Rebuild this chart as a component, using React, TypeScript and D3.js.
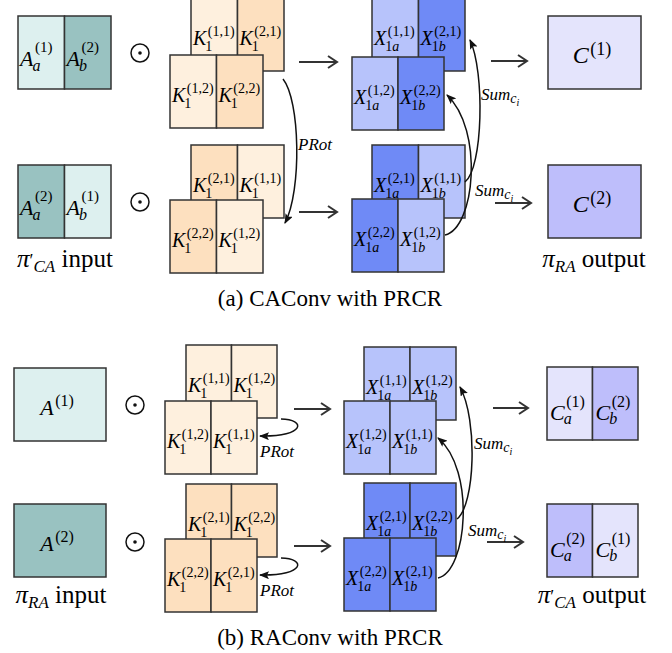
import * as d3 from 'd3';
import { useEffect, useRef } from 'react';

// channel labels
// (a) CAConv
const inputsA = [['1', '2'], ['2', '1']]; // A_a^(i) | A_b^(j) per row
const kernelsA = [
  [['1,1', '2,1'], ['1,2', '2,2']], // row 1: back pair, front pair
  [['2,1', '1,1'], ['2,2', '1,2']],
];
const partialsA = [
  [['1,1', '2,1'], ['1,2', '2,2']],
  [['2,1', '1,1'], ['2,2', '1,2']],
];
const outputsA = ['1', '2'];

// (b) RAConv
const inputsB = ['1', '2'];
const kernelsB = [
  [['1,1', '1,2'], ['1,2', '1,1']],
  [['2,1', '2,2'], ['2,2', '2,1']],
];
const partialsB = [
  [['1,1', '1,2'], ['1,2', '1,1']],
  [['2,1', '2,2'], ['2,2', '2,1']],
];
const outputsB = [['1', '2'], ['2', '1']];

// io labels: [prime, subscript, word]
const ioA = [['\u2032', 'CA', 'input'], ['', 'RA', 'output']];
const ioB = [['', 'RA', 'input'], ['\u2032', 'CA', 'output']];
const halves = ['a', 'b'];
const captions = ['(a) CAConv with PRCR', '(b) RAConv with PRCR'];

const FILL: Record<string, string[]> = {
  A: ['#ddf0ef', '#99c2c1'],
  K: ['#fef0de', '#fde0bf'],
  X: ['#b7c3fb', '#6f8af6'],
  C: ['#e4e4fc', '#bebefb'],
};
const shade = (lab: string) => +lab[0] - 1;
const INK = '#333';

type Run = { t: string; it?: boolean; size?: number; dy?: number };
type Sym = {
  base: string; size: number;
  sup?: string; supSize?: number; supDy?: number;
  sub?: Run[]; subSize?: number; subDy?: number;
};

function sym(parent: any, x: number, y: number, s: Sym, anchor: 'start' | 'middle') {
  const g = parent.append('g');
  const b = g.append('text').attr('y', y).attr('font-size', s.size).attr('font-style', 'italic').text(s.base);
  const bw = b.node().getComputedTextLength();
  let w = bw;
  if (s.sup) {
    const t = g.append('text').attr('x', bw + 1.5).attr('y', y + (s.supDy ?? 0)).attr('font-size', s.supSize).text(s.sup);
    w = Math.max(w, bw + 1.5 + t.node().getComputedTextLength());
  }
  if (s.sub) {
    const t = g.append('text').attr('x', bw - 1).attr('y', y + (s.subDy ?? 0)).attr('font-size', s.subSize);
    s.sub.forEach(r =>
      t.append('tspan')
        .attr('font-style', r.it ? 'italic' : 'normal')
        .attr('font-size', r.size ?? null)
        .attr('dy', r.dy ?? null)
        .text(r.t));
    w = Math.max(w, bw - 1 + t.node().getComputedTextLength());
  }
  g.attr('transform', `translate(${anchor === 'middle' ? x - w / 2 : x},0)`);
}

function rect(g: any, x: number, y: number, w: number, h: number, fill: string) {
  g.append('rect')
    .attr('x', x).attr('y', y).attr('width', w).attr('height', h)
    .attr('fill', fill).attr('stroke', INK).attr('stroke-width', 1.5);
}

// pair of K or X cells
function kx(g: any, x: number, y: number, w: number, h: number, kind: string, labs: string[]) {
  const cw = w / 2;
  labs.forEach((lab, i) => {
    rect(g, x + i * cw, y, cw, h, FILL[kind][shade(lab)]);
    sym(g, x + i * cw + 2, y + h / 2 + 10.5, {
      base: kind, size: 20,
      sup: `(${lab})`, supSize: 14, supDy: -9,
      sub: kind === 'K' ? [{ t: '1' }] : [{ t: '1' }, { t: halves[i], it: true }],
      subSize: 14, subDy: 6,
    }, 'start');
  });
}

function odot(g: any, cx: number, cy: number) {
  g.append('circle').attr('cx', cx).attr('cy', cy).attr('r', 9)
    .attr('fill', 'none').attr('stroke', '#111').attr('stroke-width', 1.5);
  g.append('circle').attr('cx', cx).attr('cy', cy).attr('r', 1.8).attr('fill', '#111');
}

function arrow(g: any, x1: number, x2: number, y: number) {
  g.append('line').attr('x1', x1).attr('x2', x2).attr('y1', y).attr('y2', y)
    .attr('stroke', INK).attr('stroke-width', 2);
  g.append('polyline').attr('points', `${x2 - 9},${y - 6} ${x2},${y} ${x2 - 9},${y + 6}`)
    .attr('fill', 'none').attr('stroke', INK).attr('stroke-width', 2);
}

function curve(g: any, pts: number[][]) {
  const p = d3.path();
  p.moveTo(pts[0][0], pts[0][1]);
  p.bezierCurveTo(pts[1][0], pts[1][1], pts[2][0], pts[2][1], pts[3][0], pts[3][1]);
  g.append('path').attr('d', p.toString()).attr('fill', 'none')
    .attr('stroke', '#111').attr('stroke-width', 1.5).attr('marker-end', 'url(#head)');
}

function sumLabel(g: any, x: number, y: number) {
  const t = g.append('text').attr('x', x).attr('y', y).attr('font-size', 17).attr('font-style', 'italic');
  t.append('tspan').text('Sum');
  t.append('tspan').attr('font-size', 14).attr('dy', 3).text('c');
  t.append('tspan').attr('font-size', 10).attr('dy', 3).text('i');
}

function prot(g: any, x: number, y: number) {
  g.append('text').attr('x', x).attr('y', y).attr('font-size', 17).attr('font-style', 'italic').text('PRot');
}

function ioLabel(g: any, cx: number, y: number, io: string[]) {
  const t = g.append('text').attr('x', cx).attr('y', y).attr('font-size', 25).attr('text-anchor', 'middle');
  t.append('tspan').attr('font-style', 'italic').text('\u03c0');
  if (io[0]) t.append('tspan').attr('font-size', 18).text(io[0]);
  t.append('tspan').attr('font-style', 'italic').attr('font-size', 17).attr('dy', 5).text(io[1]);
  t.append('tspan').attr('dy', -5).text(' ' + io[2]);
}

export default function App() {
  const ref = useRef<SVGSVGElement>(null);

  useEffect(() => {
    const svg = d3.select(ref.current);
    svg.selectAll('*').remove();

    svg.append('defs').append('marker')
      .attr('id', 'head').attr('viewBox', '0 0 10 8')
      .attr('markerUnits', 'userSpaceOnUse')
      .attr('markerWidth', 10).attr('markerHeight', 8)
      .attr('refX', 9).attr('refY', 4).attr('orient', 'auto')
      .append('path').attr('d', 'M0,0 L10,4 L0,8 L2,4 Z').attr('fill', '#111');

    const g = svg.append('g');
    const H = 73;

    // ---------- (a) CAConv ----------
    const aRows = [
      { inY: 16, kb: -2, kf: 55, xb: -2, xf: 57, dot: 53, a1: 62, a2: [491, 527, 61], outY: 16 },
      { inY: 165, kb: 145, kf: 200, xb: 145, xf: 199, dot: 202, a1: 212, a2: [495, 531, 203], outY: 165 },
    ];
    aRows.forEach((r, ri) => {
      inputsA[ri].forEach((lab, i) => {
        rect(g, 18 + i * 46.5, r.inY, 46.5, H, FILL.A[shade(lab)]);
        sym(g, 18 + i * 46.5 + 2, r.inY + H / 2 + 13.5, {
          base: 'A', size: 22, sup: `(${lab})`, supSize: 15, supDy: -14,
          sub: [{ t: halves[i], it: true }], subSize: 16, subDy: 5,
        }, 'start');
      });
      odot(g, 140, r.dot);
      kx(g, 191, r.kb, 93, H, 'K', kernelsA[ri][0]);
      kx(g, 170, r.kf, 93, H, 'K', kernelsA[ri][1]);
      arrow(g, 299, 337, r.a1);
      kx(g, 372, r.xb, 93, H, 'X', partialsA[ri][0]);
      kx(g, 352, r.xf, 92, H, 'X', partialsA[ri][1]);
      arrow(g, r.a2[0], r.a2[1], r.a2[2]);
      rect(g, 548, r.outY, 93, H, FILL.C[ri]);
      sym(g, 592, r.outY + H / 2 + 10.5, { base: 'C', size: 24, sup: `(${outputsA[ri]})`, supSize: 18, supDy: -8 }, 'middle');
    });
    curve(g, [[283, 79], [300, 100], [302, 190], [285, 223]]);
    prot(g, 298, 150);
    curve(g, [[465, 182], [483, 168], [485, 72], [470, 40]]);
    curve(g, [[445, 235], [475, 228], [484, 130], [447, 95]]);
    sumLabel(g, 481, 100);
    sumLabel(g, 475, 196);
    ioLabel(g, 65, 267, ioA[0]);
    ioLabel(g, 594, 267, ioA[1]);
    g.append('text').attr('x', 330).attr('y', 306).attr('font-size', 23)
      .attr('text-anchor', 'middle').text(captions[0]);

    // ---------- (b) RAConv ----------
    const bRows = [
      { inY: 368, kb: 345, kf: 401, xb: 347, xf: 401, dot: 405, a1: 409, a2: [493, 528, 408], outY: 367 },
      { inY: 504, kb: 484, kf: 539, xb: 483, xf: 538, dot: 542, a1: 546, a2: [487, 523, 542], outY: 504 },
    ];
    bRows.forEach((r, ri) => {
      rect(g, 14, r.inY, 92, H, FILL.A[ri]);
      sym(g, 57, r.inY + H / 2 + 10, { base: 'A', size: 22, sup: `(${inputsB[ri]})`, supSize: 16, supDy: -9 }, 'middle');
      odot(g, 135, r.dot);
      kx(g, 186, r.kb, 91, H, 'K', kernelsB[ri][0]);
      kx(g, 165, r.kf, 92, H, 'K', kernelsB[ri][1]);
      arrow(g, 294, 330, r.a1);
      kx(g, 364, r.xb, 92, H, 'X', partialsB[ri][0]);
      kx(g, 344, r.xf, 92, H, 'X', partialsB[ri][1]);
      arrow(g, r.a2[0], r.a2[1], r.a2[2]);
      outputsB[ri].forEach((lab, i) => {
        rect(g, 547 + i * 45.5, r.outY, 45.5, H, FILL.C[shade(lab)]);
        sym(g, 547 + i * 45.5 + 3, r.outY + H / 2 + 16, {
          base: 'C', size: 22, sup: `(${lab})`, supSize: 16, supDy: -13,
          sub: [{ t: halves[i], it: true }], subSize: 16, subDy: 4,
        }, 'start');
      });
      // PRot loop
      curve(g, [[281, r.kb + 74], [306, r.kb + 74], [306, r.kb + 92], [260, r.kb + 91]]);
      prot(g, 260, r.kb + 112);
    });
    curve(g, [[457, 519], [475, 505], [478, 420], [460, 387]]);
    curve(g, [[438, 578], [467, 572], [476, 470], [438, 438]]);
    sumLabel(g, 474, 449);
    sumLabel(g, 468, 536);
    ioLabel(g, 61, 603, ioB[0]);
    ioLabel(g, 592, 603, ioB[1]);
    g.append('text').attr('x', 330).attr('y', 645).attr('font-size', 23)
      .attr('text-anchor', 'middle').text(captions[1]);
  }, []);

  return (
    <svg
      ref={ref}
      width={672}
      height={653}
      viewBox="0 0 672 653"
      fontFamily="'Liberation Serif', serif"
      style={{ position: 'absolute', left: 0, top: 0, background: '#fff' }}
    />
  );
}
